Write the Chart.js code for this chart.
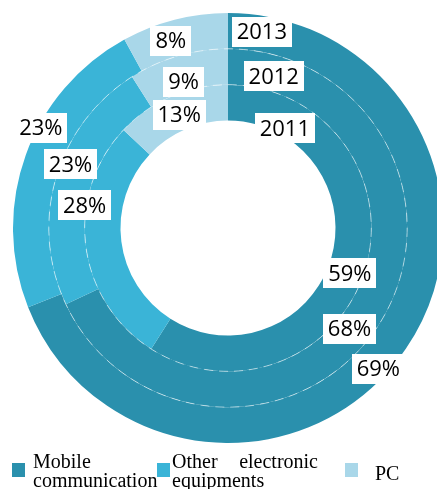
<!DOCTYPE html>
<html>
<head>
<meta charset="utf-8">
<script src="https://cdn.jsdelivr.net/npm/chart.js@4/dist/chart.umd.min.js"></script>
<style>
  html, body { margin: 0; padding: 0; background: #fff; overflow: hidden; width: 437px; height: 489px; }
  #wrap { position: absolute; left: 0; top: 0; width: 456px; height: 456px; }
  #legend { position: absolute; left: 0; top: 0; width: 437px; height: 489px; pointer-events: none;
            font-family: "Liberation Serif", "Times New Roman", serif; font-size: 20px; color: #000; }
  .sw { position: absolute; width: 13px; height: 14px; }
  .lt { position: absolute; line-height: 19px; text-align: justify; white-space: normal; }
</style>
</head>
<body>
<div id="wrap"><canvas id="c" width="456" height="456"></canvas></div>
<div id="legend"></div>
<script>
// Market share by product segment, one ring per year (outermost ring = latest year)
const years = ['2013', '2012', '2011'];
const categories = ['Mobile communication', 'Other electronic equipments', 'PC'];
const share2013 = [69, 23, 8];
const share2012 = [68, 23, 9];
const share2011 = [59, 28, 13];
const colors = ['#2a90ad', '#3ab4d7', '#a9d7e9'];

const seriesByYear = [share2013, share2012, share2011];

// Where each label sits inside its arc: [fraction along the arc, fraction across the ring]
const valueLabelPlacement = [
  [[0.536, 0.75], [0.60, 0.92], [0.41, 0.455]],
  [[0.53, 0.41], [0.57, 0.74], [0.48, 0.27]],
  [[0.52, 0.63], [0.66, 1.05], [0.50, 0.43]]
];
// Year labels: [degrees past the ring start, fraction across the ring]
const yearLabelPlacement = [[9.8, 0.55], [16.8, 0.42], [29.7, 0.2]];

const labelFont = '22px "Open Sans", "DejaVu Sans", sans-serif';

function boxedText(ctx, text, x, y) {
  ctx.font = labelFont;
  const w = ctx.measureText(text).width + 10;
  const h = 30;
  ctx.fillStyle = '#ffffff';
  ctx.fillRect(Math.round(x - w / 2), Math.round(y - h / 2), Math.round(w), h);
  ctx.fillStyle = '#000000';
  ctx.textAlign = 'center';
  ctx.textBaseline = 'middle';
  ctx.fillText(text, x, y + 1);
}

const ringDecor = {
  id: 'ringDecor',
  afterDatasetsDraw(chart) {
    const ctx = chart.ctx;
    ctx.save();
    // dashed separators between neighbouring rings
    ctx.strokeStyle = 'rgba(255,255,255,0.55)';
    ctx.lineWidth = 1;
    ctx.setLineDash([9, 6]);
    for (let d = 0; d < chart.data.datasets.length - 1; d++) {
      const arc = chart.getDatasetMeta(d).data[0];
      ctx.beginPath();
      ctx.arc(arc.x, arc.y, arc.innerRadius, 0, Math.PI * 2);
      ctx.stroke();
    }
    ctx.setLineDash([]);
    // value labels
    chart.data.datasets.forEach((ds, d) => {
      const meta = chart.getDatasetMeta(d);
      meta.data.forEach((arc, i) => {
        const [t, u] = valueLabelPlacement[d][i];
        const a = arc.startAngle + (arc.endAngle - arc.startAngle) * t;
        const r = arc.innerRadius + (arc.outerRadius - arc.innerRadius) * u;
        boxedText(ctx, ds.data[i] + '%', arc.x + r * Math.cos(a), arc.y + r * Math.sin(a));
      });
    });
    // year labels at the start of each ring
    chart.data.datasets.forEach((ds, d) => {
      const arc = chart.getDatasetMeta(d).data[0];
      const [deg, u] = yearLabelPlacement[d];
      const a = arc.startAngle + deg * Math.PI / 180;
      const r = arc.innerRadius + (arc.outerRadius - arc.innerRadius) * u;
      boxedText(ctx, ds.label, arc.x + r * Math.cos(a), arc.y + r * Math.sin(a));
    });
    ctx.restore();
  }
};

new Chart(document.getElementById('c'), {
  type: 'doughnut',
  data: {
    labels: categories,
    datasets: years.map((y, k) => ({
      label: y,
      data: seriesByYear[k],
      backgroundColor: colors,
      borderWidth: 0,
      hoverOffset: 0
    }))
  },
  options: {
    responsive: false,
    animation: false,
    cutout: '50%',
    layout: { padding: 13 },
    plugins: {
      legend: { display: false },
      tooltip: { enabled: false }
    }
  },
  plugins: [ringDecor]
});

// legend built from the category names and colours
const legendLayout = [
  { sw: [12, 463], text: [33, 452, 126] },
  { sw: [157, 463], text: [172, 452, 146] },
  { sw: [345, 463], text: [375, 464, 60] }
];
const legend = document.getElementById('legend');
categories.forEach((name, i) => {
  const L = legendLayout[i];
  const sw = document.createElement('div');
  sw.className = 'sw';
  sw.style.left = L.sw[0] + 'px';
  sw.style.top = L.sw[1] + 'px';
  sw.style.background = colors[i];
  legend.appendChild(sw);
  const t = document.createElement('div');
  t.className = 'lt';
  t.style.left = L.text[0] + 'px';
  t.style.top = L.text[1] + 'px';
  t.style.width = L.text[2] + 'px';
  t.textContent = name;
  legend.appendChild(t);
});
</script>
</body>
</html>
